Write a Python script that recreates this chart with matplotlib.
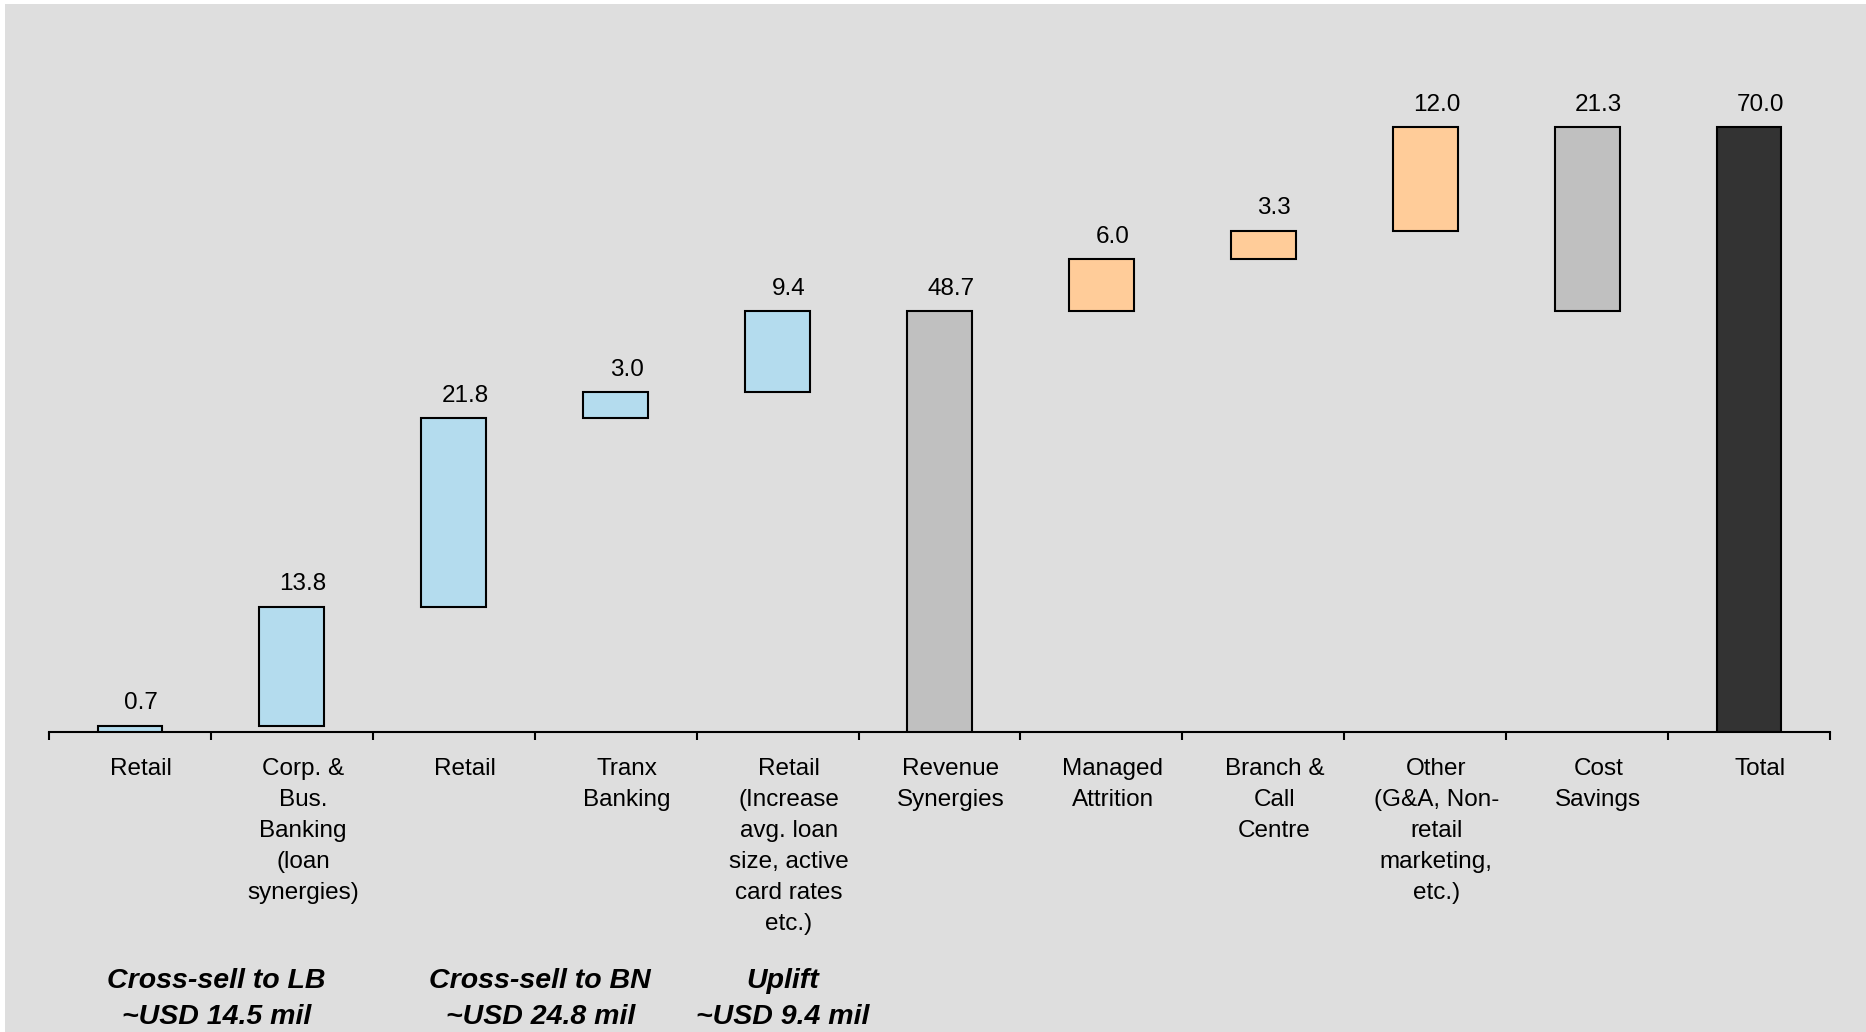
import matplotlib.pyplot as plt
from matplotlib.patches import Rectangle
from matplotlib.transforms import blended_transform_factory

plt.rcParams['font.family'] = ['Liberation Sans', 'DejaVu Sans']

# Synergy waterfall (USD mil)
categories = [
    "Retail",
    "Corp. &\nBus.\nBanking\n(loan\nsynergies)",
    "Retail",
    "Tranx\nBanking",
    "Retail\n(Increase\navg. loan\nsize, active\ncard rates\netc.)",
    "Revenue\nSynergies",
    "Managed\nAttrition",
    "Branch &\nCall\nCentre",
    "Other\n(G&A, Non-\nretail\nmarketing,\netc.)",
    "Cost\nSavings",
    "Total",
]
values = [0.7, 13.8, 21.8, 3.0, 9.4, 48.7, 6.0, 3.3, 12.0, 21.3, 70.0]
kinds = ["rev", "rev", "rev", "rev", "rev", "sub", "cost", "cost", "cost", "sub", "total"]

group_labels = ["Cross-sell to LB\n~USD 14.5 mil",
                "Cross-sell to BN\n~USD 24.8 mil",
                "Uplift\n~USD 9.4 mil"]
group_x = [0.5, 2.5, 4]

colors = {"rev": "#B4DCEE", "cost": "#FFCC99", "sub": "#C0C0C0", "total": "#333333"}
bg = "#DEDEDE"

# stack the bars
bottoms = []
level = 0.0
for v, k in zip(values, kinds):
    if k in ("rev", "cost"):
        bottoms.append(level)
        level += v
    elif k == "sub":
        bottoms.append(level - v)
    else:
        bottoms.append(0.0)

W, H = 1866, 1032
fig = plt.figure(figsize=(W / 100, H / 100), dpi=100, facecolor="white")
fig.patches.append(Rectangle((5 / W, 0), 1, 1 - 4 / H, transform=fig.transFigure,
                             facecolor=bg, edgecolor="none", zorder=-10))

ax = fig.add_axes([49 / W, (H - 732) / H, (1830 - 49) / W, 732 / H])
ax.set_zorder(1)
ax.set_facecolor("none")
ax.set_xlim(-0.5, len(values) - 0.5)
ax.set_ylim(0, 732 / 8.64)

x = list(range(len(values)))
ax.bar(x, values, bottom=bottoms, width=0.4,
       color=[colors[k] for k in kinds], edgecolor="black", linewidth=1.5, zorder=3)

for i, (v, b) in enumerate(zip(values, bottoms)):
    ax.annotate(f"{v:.1f}", xy=(i, b + v), xytext=(8, 12), textcoords="offset points",
                ha="center", va="baseline", fontsize=17.5)
    ax.annotate(categories[i], xy=(i, 0), xytext=(8, -19), textcoords="offset points",
                ha="center", va="top", fontsize=17.5, linespacing=1.52,
                multialignment="center", annotation_clip=False)

for s in ("top", "right", "left"):
    ax.spines[s].set_visible(False)
ax.spines["bottom"].set_linewidth(1.5)
ax.set_yticks([])
ax.set_xticks([i - 0.5 for i in range(len(values) + 1)])
ax.set_xticklabels([])
ax.tick_params(axis="x", direction="out", length=6, width=1.5)

trans = blended_transform_factory(ax.transData, fig.transFigure)
for gx, gl in zip(group_x, group_labels):
    ax.annotate(gl, xy=(gx, 33 / H), xycoords=trans, xytext=(4, 0),
                textcoords="offset points", ha="center", va="center",
                fontsize=20.5, fontweight="bold", fontstyle="italic",
                linespacing=1.45, annotation_clip=False)

fig.savefig("out.png", dpi=100, facecolor=fig.get_facecolor())
